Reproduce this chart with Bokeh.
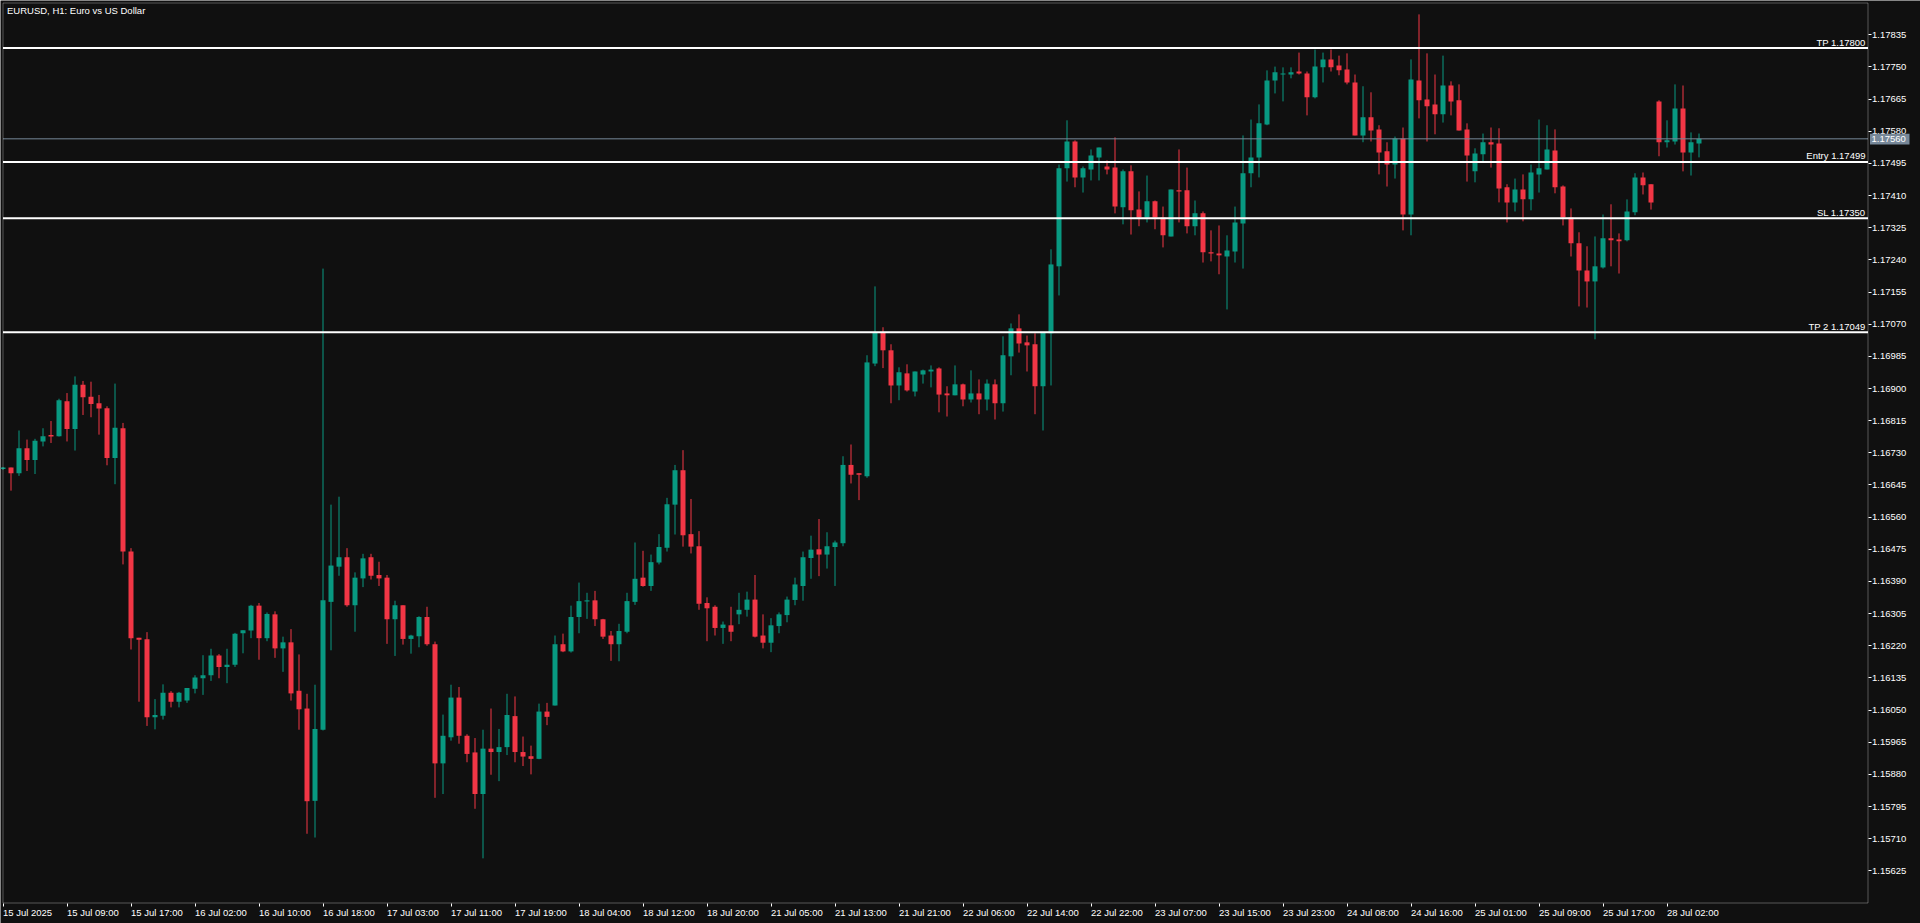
from bokeh.plotting import figure
from bokeh.models import (Label, FixedTicker, NumeralTickFormatter, Range1d,
                          ColumnDataSource, BoxAnnotation)
from bokeh.embed import file_html
from bokeh.resources import INLINE

# ---------------- data ----------------
chart_title = "EURUSD, H1:  Euro vs US Dollar"

opens = [
    1.16687, 1.16691, 1.16676, 1.16742, 1.16711, 1.16760, 1.16777, 1.16774, 1.16866, 1.16793,
    1.16910, 1.16878, 1.16861, 1.16848, 1.16716, 1.16795, 1.16469, 1.16241, 1.16237, 1.16031,
    1.16035, 1.16096, 1.16072, 1.16075, 1.16106, 1.16134, 1.16142, 1.16194, 1.16164, 1.16170,
    1.16253, 1.16260, 1.16326, 1.16240, 1.16303, 1.16213, 1.16229, 1.16101, 1.16054, 1.15810,
    1.15998, 1.16336, 1.16429, 1.16454, 1.16327, 1.16398, 1.16454, 1.16407, 1.16400, 1.16290,
    1.16327, 1.16238, 1.16245, 1.16296, 1.16224, 1.15909, 1.15978, 1.16083, 1.15982, 1.15938,
    1.15828, 1.15948, 1.15939, 1.15952, 1.16034, 1.15939, 1.15928, 1.15921, 1.16046, 1.16062,
    1.16224, 1.16205, 1.16296, 1.16337, 1.16340, 1.16290, 1.16247, 1.16224, 1.16257, 1.16336,
    1.16400, 1.16378, 1.16440, 1.16479, 1.16593, 1.16684, 1.16515, 1.16483, 1.16333, 1.16323,
    1.16267, 1.16274, 1.16303, 1.16315, 1.16342, 1.16247, 1.16228, 1.16272, 1.16301, 1.16341,
    1.16378, 1.16452, 1.16475, 1.16461, 1.16481, 1.16491, 1.16698, 1.16676, 1.16668, 1.16966,
    1.17048, 1.17001, 1.16908, 1.16940, 1.16892, 1.16937, 1.16945, 1.16953, 1.16887, 1.16882,
    1.16911, 1.16871, 1.16887, 1.16871, 1.16911, 1.16861, 1.16985, 1.17059, 1.17022, 1.17017,
    1.16906, 1.17046, 1.17223, 1.17482, 1.17553, 1.17458, 1.17479, 1.17511, 1.17487, 1.17484,
    1.17379, 1.17474, 1.17373, 1.17352, 1.17395, 1.17352, 1.17302, 1.17424, 1.17424, 1.17329,
    1.17363, 1.17260, 1.17257, 1.17249, 1.17262, 1.17336, 1.17469, 1.17511, 1.17598, 1.17714,
    1.17730, 1.17730, 1.17738, 1.17733, 1.17670, 1.17749, 1.17770, 1.17754, 1.17743, 1.17709,
    1.17569, 1.17617, 1.17585, 1.17527, 1.17492, 1.17561, 1.17360, 1.17714, 1.17664, 1.17651,
    1.17625, 1.17701, 1.17662, 1.17585, 1.17474, 1.17519, 1.17551, 1.17548, 1.17432, 1.17392,
    1.17426, 1.17400, 1.17466, 1.17479, 1.17529, 1.17434, 1.17352, 1.17284, 1.17212, 1.17183,
    1.17220, 1.17297, 1.17294, 1.17292, 1.17366, 1.17458, 1.17440, 1.17659, 1.17551, 1.17553,
    1.17640, 1.17524, 1.17548,
]

highs = [
    1.16692, 1.16691, 1.16789, 1.16765, 1.16767, 1.16795, 1.16814, 1.16873, 1.16888, 1.16932,
    1.16920, 1.16918, 1.16883, 1.16853, 1.16913, 1.16809, 1.16478, 1.16241, 1.16256, 1.16079,
    1.16118, 1.16100, 1.16098, 1.16108, 1.16142, 1.16195, 1.16212, 1.16198, 1.16212, 1.16254,
    1.16261, 1.16328, 1.16333, 1.16308, 1.16311, 1.16244, 1.16264, 1.16197, 1.16093, 1.16117,
    1.17217, 1.16593, 1.16614, 1.16478, 1.16414, 1.16463, 1.16463, 1.16442, 1.16407, 1.16339,
    1.16327, 1.16249, 1.16298, 1.16323, 1.16231, 1.16038, 1.16117, 1.16111, 1.15986, 1.15976,
    1.15998, 1.16054, 1.16000, 1.16093, 1.16086, 1.15980, 1.15956, 1.16067, 1.16069, 1.16247,
    1.16252, 1.16326, 1.16387, 1.16360, 1.16365, 1.16291, 1.16259, 1.16278, 1.16360, 1.16493,
    1.16471, 1.16461, 1.16515, 1.16611, 1.16698, 1.16737, 1.16608, 1.16523, 1.16348, 1.16327,
    1.16284, 1.16323, 1.16360, 1.16363, 1.16407, 1.16303, 1.16293, 1.16308, 1.16350, 1.16400,
    1.16469, 1.16511, 1.16555, 1.16520, 1.16498, 1.16721, 1.16752, 1.16676, 1.16988, 1.17170,
    1.17062, 1.17017, 1.16956, 1.16964, 1.16945, 1.16950, 1.16961, 1.16956, 1.16906, 1.16961,
    1.16913, 1.16948, 1.16924, 1.16924, 1.16924, 1.17038, 1.17072, 1.17096, 1.17040, 1.17046,
    1.17048, 1.17268, 1.17492, 1.17609, 1.17556, 1.17487, 1.17532, 1.17537, 1.17503, 1.17564,
    1.17479, 1.17490, 1.17421, 1.17463, 1.17397, 1.17381, 1.17426, 1.17532, 1.17484, 1.17397,
    1.17368, 1.17318, 1.17331, 1.17305, 1.17381, 1.17569, 1.17611, 1.17651, 1.17741, 1.17751,
    1.17749, 1.17749, 1.17788, 1.17738, 1.17796, 1.17788, 1.17796, 1.17780, 1.17786, 1.17730,
    1.17699, 1.17683, 1.17596, 1.17551, 1.17566, 1.17590, 1.17770, 1.17889, 1.17786, 1.17730,
    1.17780, 1.17712, 1.17704, 1.17601, 1.17535, 1.17574, 1.17590, 1.17588, 1.17440, 1.17455,
    1.17466, 1.17492, 1.17611, 1.17596, 1.17585, 1.17437, 1.17376, 1.17313, 1.17276, 1.17302,
    1.17360, 1.17387, 1.17310, 1.17400, 1.17469, 1.17471, 1.17440, 1.17662, 1.17609, 1.17704,
    1.17701, 1.17577, 1.17574,
]

lows = [
    1.16685, 1.16630, 1.16669, 1.16682, 1.16674, 1.16747, 1.16756, 1.16773, 1.16760, 1.16736,
    1.16830, 1.16824, 1.16778, 1.16697, 1.16647, 1.16435, 1.16210, 1.16072, 1.16008, 1.15999,
    1.16025, 1.16057, 1.16057, 1.16069, 1.16094, 1.16090, 1.16127, 1.16134, 1.16121, 1.16164,
    1.16200, 1.16240, 1.16183, 1.16232, 1.16188, 1.16151, 1.16075, 1.15998, 1.15723, 1.15713,
    1.15996, 1.16208, 1.16405, 1.16323, 1.16257, 1.16375, 1.16395, 1.16378, 1.16225, 1.16193,
    1.16223, 1.16199, 1.16216, 1.16220, 1.15818, 1.15828, 1.15969, 1.15961, 1.15912, 1.15789,
    1.15658, 1.15879, 1.15862, 1.15931, 1.15912, 1.15902, 1.15880, 1.15920, 1.16010, 1.16062,
    1.16203, 1.16202, 1.16253, 1.16291, 1.16272, 1.16238, 1.16180, 1.16179, 1.16253, 1.16328,
    1.16376, 1.16365, 1.16435, 1.16469, 1.16514, 1.16482, 1.16464, 1.16315, 1.16232, 1.16247,
    1.16225, 1.16232, 1.16277, 1.16297, 1.16242, 1.16213, 1.16203, 1.16253, 1.16282, 1.16327,
    1.16339, 1.16397, 1.16404, 1.16424, 1.16378, 1.16483, 1.16649, 1.16605, 1.16664, 1.16959,
    1.16954, 1.16861, 1.16869, 1.16892, 1.16879, 1.16913, 1.16903, 1.16837, 1.16826, 1.16882,
    1.16853, 1.16863, 1.16832, 1.16842, 1.16818, 1.16839, 1.16935, 1.16995, 1.16945, 1.16832,
    1.16789, 1.16908, 1.17146, 1.17447, 1.17432, 1.17418, 1.17450, 1.17450, 1.17466, 1.17363,
    1.17334, 1.17307, 1.17329, 1.17339, 1.17321, 1.17273, 1.17302, 1.17339, 1.17310, 1.17305,
    1.17233, 1.17236, 1.17202, 1.17109, 1.17233, 1.17217, 1.17432, 1.17458, 1.17596, 1.17680,
    1.17659, 1.17720, 1.17730, 1.17622, 1.17667, 1.17709, 1.17738, 1.17728, 1.17704, 1.17569,
    1.17551, 1.17553, 1.17466, 1.17434, 1.17455, 1.17318, 1.17305, 1.17614, 1.17553, 1.17572,
    1.17603, 1.17622, 1.17582, 1.17447, 1.17445, 1.17500, 1.17484, 1.17392, 1.17339, 1.17368,
    1.17342, 1.17371, 1.17418, 1.17479, 1.17416, 1.17331, 1.17249, 1.17117, 1.17114, 1.17030,
    1.17217, 1.17223, 1.17204, 1.17289, 1.17358, 1.17413, 1.17373, 1.17514, 1.17537, 1.17545,
    1.17474, 1.17463, 1.17511,
]

closes = [
    1.16691, 1.16676, 1.16742, 1.16711, 1.16762, 1.16774, 1.16773, 1.16869, 1.16793, 1.16910,
    1.16877, 1.16859, 1.16847, 1.16716, 1.16796, 1.16469, 1.16240, 1.16236, 1.16031, 1.16037,
    1.16096, 1.16072, 1.16096, 1.16108, 1.16136, 1.16142, 1.16194, 1.16164, 1.16170, 1.16252,
    1.16261, 1.16326, 1.16240, 1.16304, 1.16213, 1.16229, 1.16094, 1.16052, 1.15809, 1.16000,
    1.16340, 1.16432, 1.16454, 1.16327, 1.16400, 1.16451, 1.16405, 1.16398, 1.16290, 1.16327,
    1.16238, 1.16247, 1.16296, 1.16224, 1.15909, 1.15982, 1.16083, 1.15982, 1.15934, 1.15828,
    1.15948, 1.15939, 1.15952, 1.16037, 1.15939, 1.15927, 1.15921, 1.16046, 1.16032, 1.16224,
    1.16205, 1.16296, 1.16338, 1.16340, 1.16290, 1.16244, 1.16224, 1.16259, 1.16338, 1.16397,
    1.16378, 1.16441, 1.16481, 1.16594, 1.16684, 1.16512, 1.16482, 1.16331, 1.16319, 1.16267,
    1.16276, 1.16257, 1.16315, 1.16342, 1.16244, 1.16228, 1.16274, 1.16303, 1.16342, 1.16382,
    1.16454, 1.16474, 1.16461, 1.16483, 1.16493, 1.16698, 1.16672, 1.16672, 1.16969, 1.17048,
    1.17001, 1.16908, 1.16943, 1.16895, 1.16945, 1.16948, 1.16950, 1.16884, 1.16882, 1.16911,
    1.16871, 1.16887, 1.16871, 1.16913, 1.16861, 1.16988, 1.17059, 1.17019, 1.17014, 1.16906,
    1.17048, 1.17228, 1.17482, 1.17553, 1.17458, 1.17482, 1.17516, 1.17537, 1.17479, 1.17381,
    1.17474, 1.17371, 1.17352, 1.17395, 1.17352, 1.17305, 1.17426, 1.17421, 1.17329, 1.17363,
    1.17260, 1.17257, 1.17252, 1.17265, 1.17339, 1.17469, 1.17511, 1.17601, 1.17714, 1.17736,
    1.17733, 1.17736, 1.17733, 1.17670, 1.17751, 1.17770, 1.17749, 1.17741, 1.17709, 1.17569,
    1.17617, 1.17582, 1.17524, 1.17492, 1.17561, 1.17360, 1.17717, 1.17662, 1.17646, 1.17625,
    1.17701, 1.17659, 1.17582, 1.17516, 1.17521, 1.17551, 1.17545, 1.17429, 1.17392, 1.17426,
    1.17400, 1.17471, 1.17482, 1.17532, 1.17432, 1.17352, 1.17284, 1.17212, 1.17183, 1.17223,
    1.17297, 1.17292, 1.17289, 1.17368, 1.17458, 1.17437, 1.17392, 1.17551, 1.17556, 1.17640,
    1.17524, 1.17551, 1.17560,
]

time_labels = [
    "15 Jul 2025", "15 Jul 09:00", "15 Jul 17:00", "16 Jul 02:00", "16 Jul 10:00",
    "16 Jul 18:00", "17 Jul 03:00", "17 Jul 11:00", "17 Jul 19:00", "18 Jul 04:00",
    "18 Jul 12:00", "18 Jul 20:00", "21 Jul 05:00", "21 Jul 13:00", "21 Jul 21:00",
    "22 Jul 06:00", "22 Jul 14:00", "22 Jul 22:00", "23 Jul 07:00", "23 Jul 15:00",
    "23 Jul 23:00", "24 Jul 08:00", "24 Jul 16:00", "25 Jul 01:00", "25 Jul 09:00",
    "25 Jul 17:00", "28 Jul 02:00",
]
bars_per_time_label = 8

price_tick_labels = [
    "1.15625", "1.15710", "1.15795", "1.15880", "1.15965", "1.16050", "1.16135",
    "1.16220", "1.16305", "1.16390", "1.16475", "1.16560", "1.16645", "1.16730",
    "1.16815", "1.16900", "1.16985", "1.17070", "1.17155", "1.17240", "1.17325",
    "1.17410", "1.17495", "1.17580", "1.17665", "1.17750", "1.17835",
]

level_names = ["TP", "Entry", "SL", "TP 2"]
level_prices = [1.17800, 1.17499, 1.17350, 1.17049]
current_price = 1.17560

# ---------------- style / layout ----------------
BG = "#101010"
UP = "#089981"
DOWN = "#F23645"
FG = "white"
TAG = "#778899"
FONT = "Liberation Sans"
FS = "9.5px"

W, H = 1920, 923
PX_PER_BAR = 8
BAR0_PX = 2.5                 # page x of the first bar centre
PRICE_AT_TOP = 1.179257       # price at page y = 0
PRICE_PER_PX = 0.000026435


def xd(page_x):
    return (page_x - BAR0_PX) / PX_PER_BAR


def yd(page_y):
    return PRICE_AT_TOP - page_y * PRICE_PER_PX


chart_l, chart_r = xd(2.5), xd(1867.5)
chart_t, chart_b = yd(2.5), yd(902.5)

n = len(opens)
idx = list(range(n))
colors = [UP if c >= o else DOWN for o, c in zip(opens, closes)]
min_body = PRICE_PER_PX * 1.0
tops, bots = [], []
for o, c in zip(opens, closes):
    t, b = max(o, c), min(o, c)
    if t - b < min_body:
        m = (t + b) / 2
        t, b = m + min_body / 2, m - min_body / 2
    tops.append(t)
    bots.append(b)

src = ColumnDataSource(dict(x=idx, o=opens, h=highs, l=lows, c=closes,
                            top=tops, bot=bots, color=colors))

p = figure(width=W, height=H, output_backend="svg", toolbar_location=None,
           title=None, x_range=Range1d(xd(0), xd(W)), y_range=Range1d(yd(H), yd(0)),
           y_axis_location="right",
           min_border_left=0, min_border_top=0, min_border_right=0, min_border_bottom=0,
           background_fill_color=BG, border_fill_color=BG, outline_line_color=None)
p.grid.visible = False

# candles
p.segment(x0="x", y0="l", x1="x", y1="h", color="color", line_width=1, source=src)
p.vbar(x="x", width=5 / PX_PER_BAR, top="top", bottom="bot", fill_color="color",
       line_color=None, source=src)

# level lines and current price line
p.segment(x0=[chart_l] * len(level_prices), x1=[chart_r] * len(level_prices),
          y0=level_prices, y1=level_prices, line_color=FG, line_width=2)
p.segment(x0=[chart_l], x1=[chart_r], y0=[current_price], y1=[current_price],
          line_color=TAG, line_width=1)

# chart border
p.add_layout(BoxAnnotation(left=chart_l, right=chart_r, top=chart_t, bottom=chart_b,
                           fill_color=None, line_color=FG, line_width=1))

# price axis (right), pinned at the chart border
ya = p.yaxis[0]
ya.fixed_location = chart_r
ya.ticker = FixedTicker(ticks=[float(s) for s in price_tick_labels])
ya.formatter = NumeralTickFormatter(format="0.00000")
ya.major_tick_out = 3
ya.major_tick_in = 0
ya.minor_tick_out = 0
ya.minor_tick_in = 0
ya.major_label_standoff = 1
ya.axis_line_color = None
ya.major_tick_line_color = FG
ya.major_label_text_color = FG
ya.major_label_text_font = FONT
ya.major_label_text_font_size = FS

# time axis (bottom), ticks only; labels are left-aligned texts below
xa = p.xaxis[0]
xa.fixed_location = chart_b
xa.ticker = FixedTicker(ticks=[i * bars_per_time_label for i in range(len(time_labels))])
xa.major_tick_out = 3
xa.major_tick_in = 0
xa.minor_tick_out = 0
xa.minor_tick_in = 0
xa.axis_line_color = None
xa.major_tick_line_color = FG
xa.major_label_text_color = None

for i, t in enumerate(time_labels):
    p.add_layout(Label(x=i * bars_per_time_label, y=yd(912), text=t,
                       text_align="left", text_baseline="middle",
                       text_color=FG, text_font=FONT, text_font_size=FS))

# level labels (just above their lines, right-aligned at the border)
for name, lp in zip(level_names, level_prices):
    p.add_layout(Label(x=chart_r, y=lp, x_offset=-2.5, y_offset=6,
                       text=f"{name} {lp:.5f}",
                       text_align="right", text_baseline="middle",
                       text_color=FG, text_font=FONT, text_font_size=FS))

# current price tag: box + text, drawn above the price axis
p.add_layout(BoxAnnotation(left=xd(1869.5), right=xd(1909),
                           top=current_price + 5 * PRICE_PER_PX,
                           bottom=current_price - 5.7 * PRICE_PER_PX,
                           fill_color=TAG, fill_alpha=1, line_color=None))
p.add_layout(Label(x=xd(1871), y=current_price, text=f"{current_price:.5f}",
                   text_align="left", text_baseline="middle", text_color=FG,
                   text_font=FONT, text_font_size=FS))

# title
p.add_layout(Label(x=xd(6.5), y=yd(10), text=chart_title,
                   text_align="left", text_baseline="middle",
                   text_color=FG, text_font=FONT, text_font_size=FS))

open("out.html", "w").write(file_html(p, INLINE))
